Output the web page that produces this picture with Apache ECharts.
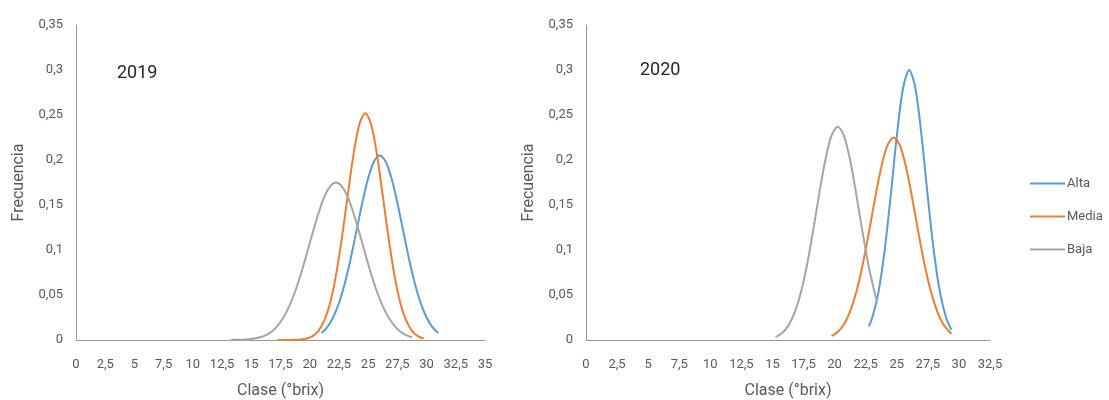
<!DOCTYPE html>
<html>
<head>
<meta charset="utf-8">
<script src="https://cdn.jsdelivr.net/npm/echarts@6/dist/echarts.min.js"></script>
<style>
  html, body { margin: 0; padding: 0; background: #fff; }
  #main { width: 1109px; height: 400px; }
</style>
</head>
<body>
<div id="main"></div>
<script>
// 2019 curves, [clase, frecuencia]
var alta2019 = [[21,0.0077],[21.5,0.0143],[22,0.0250],[22.5,0.0409],[23,0.0628],[23.5,0.0901],[24,0.1212],[24.5,0.1525],[25,0.1797],[25.5,0.1984],[26,0.2050],[26.5,0.1984],[27,0.1797],[27.5,0.1525],[28,0.1212],[28.5,0.0901],[29,0.0628],[29.5,0.0409],[30,0.0250],[30.5,0.0143],[31,0.0077]];
var media2019 = [[17.25,0],[17.75,0],[18.25,0.0001],[18.75,0.0002],[19.25,0.0006],[19.75,0.0017],[20.25,0.0044],[20.75,0.0102],[21.25,0.0217],[21.75,0.0415],[22.25,0.0721],[22.75,0.1131],[23.25,0.1606],[23.75,0.2063],[24.25,0.2397],[24.75,0.2520],[25.25,0.2397],[25.75,0.2063],[26.25,0.1606],[26.75,0.1131],[27.25,0.0721],[27.75,0.0415],[28.25,0.0217],[28.75,0.0102],[29.25,0.0044],[29.75,0.0017]];
var baja2019 = [[13.25,0.0001],[13.75,0.0002],[14.25,0.0004],[14.75,0.0008],[15.25,0.0016],[15.75,0.0030],[16.25,0.0055],[16.75,0.0095],[17.25,0.0158],[17.75,0.0250],[18.25,0.0376],[18.75,0.0539],[19.25,0.0736],[19.75,0.0959],[20.25,0.1191],[20.75,0.1409],[21.25,0.1590],[21.75,0.1708],[22.25,0.1750],[22.75,0.1708],[23.25,0.1590],[23.75,0.1409],[24.25,0.1191],[24.75,0.0959],[25.25,0.0736],[25.75,0.0539],[26.25,0.0376],[26.75,0.0250],[27.25,0.0158],[27.75,0.0095],[28.25,0.0055],[28.75,0.0030]];

// 2020 curves
var alta2020 = [[22.75,0.0152],[23,0.0236],[23.5,0.0513],[24,0.0968],[24.5,0.1588],[25,0.2261],[25.5,0.2795],[26,0.3000],[26.5,0.2795],[27,0.2261],[27.5,0.1588],[28,0.0968],[28.5,0.0513],[29,0.0236],[29.4,0.0114]];
var media2020 = [[19.75,0.0042],[20.25,0.0089],[20.75,0.0175],[21.25,0.0319],[21.75,0.0535],[22.25,0.0830],[22.75,0.1188],[23.25,0.1571],[23.75,0.1918],[24.25,0.2162],[24.75,0.2250],[25.25,0.2162],[25.75,0.1918],[26.25,0.1571],[26.75,0.1188],[27.25,0.0830],[27.75,0.0535],[28.25,0.0319],[28.75,0.0175],[29.25,0.0089],[29.4,0.0071]];
var baja2020 = [[15.25,0.0033],[15.75,0.0074],[16.25,0.0154],[16.75,0.0292],[17.25,0.0509],[17.75,0.0814],[18.25,0.1196],[18.75,0.1613],[19.25,0.1997],[19.75,0.2271],[20.25,0.2370],[20.75,0.2271],[21.25,0.1997],[21.75,0.1613],[22.25,0.1196],[22.75,0.0814],[23.25,0.0509],[23.4,0.0434]];

var seriesNames = ['Alta', 'Media', 'Baja'];
var colors = ['#5b9bd5', '#ed7d31', '#a5a5a5'];

var txt = '#595959';
var font = 'Roboto, "Liberation Sans", sans-serif';

function comma(v) {
    return String(v).replace('.', ',');
}

function xAxisFor(idx, max) {
    return {
        type: 'value',
        gridIndex: idx,
        min: 0,
        max: max,
        interval: 2.5,
        name: 'Clase (°brix)',
        nameLocation: 'middle',
        nameGap: 43,
        nameTextStyle: { color: txt, fontSize: 16, fontFamily: font },
        axisLine: { lineStyle: { color: '#999', width: 1 } },
        axisTick: { show: false },
        splitLine: { show: false },
        axisLabel: { color: txt, fontSize: 13, fontFamily: font, margin: 18, formatter: comma }
    };
}

function yAxisFor(idx) {
    return {
        type: 'value',
        gridIndex: idx,
        min: 0,
        max: 0.35,
        interval: 0.05,
        name: 'Frecuencia',
        nameLocation: 'middle',
        nameGap: 49,
        nameTextStyle: { color: txt, fontSize: 16, fontFamily: font },
        axisLine: { show: true, lineStyle: { color: '#999', width: 1 } },
        axisTick: { show: false },
        splitLine: { show: false },
        axisLabel: { color: txt, fontSize: 13, fontFamily: font, margin: 13, formatter: comma }
    };
}

function line(name, idx, data, color) {
    return {
        name: name,
        type: 'line',
        xAxisIndex: idx,
        yAxisIndex: idx,
        data: data,
        smooth: 0.3,
        symbol: 'none',
        lineStyle: { color: color, width: 2 },
        itemStyle: { color: color }
    };
}

var option = {
    animation: false,
    title: [
        { text: '2019', left: 112, top: 59, textStyle: { color: '#262626', fontSize: 18, fontWeight: 'normal', fontFamily: font } },
        { text: '2020', left: 635, top: 56, textStyle: { color: '#262626', fontSize: 18, fontWeight: 'normal', fontFamily: font } }
    ],
    grid: [
        { left: 76, top: 25, width: 409, height: 315, outerBoundsMode: 'none' },
        { left: 586, top: 25, width: 404, height: 315, outerBoundsMode: 'none' }
    ],
    xAxis: [xAxisFor(0, 35), xAxisFor(1, 32.5)],
    yAxis: [yAxisFor(0), yAxisFor(1)],
    legend: {
        orient: 'vertical',
        left: 1030,
        top: 177,
        padding: 0,
        icon: 'rect',
        itemWidth: 35,
        itemHeight: 2,
        itemGap: 20,
        data: seriesNames,
        textStyle: { color: txt, fontSize: 13, fontFamily: font, padding: [0, 0, 0, -3], lineHeight: 13 }
    },
    series: [
        line('Alta', 0, alta2019, colors[0]),
        line('Media', 0, media2019, colors[1]),
        line('Baja', 0, baja2019, colors[2]),
        line('Alta', 1, alta2020, colors[0]),
        line('Media', 1, media2020, colors[1]),
        line('Baja', 1, baja2020, colors[2])
    ]
};

echarts.init(document.getElementById('main')).setOption(option);
</script>
</body>
</html>
